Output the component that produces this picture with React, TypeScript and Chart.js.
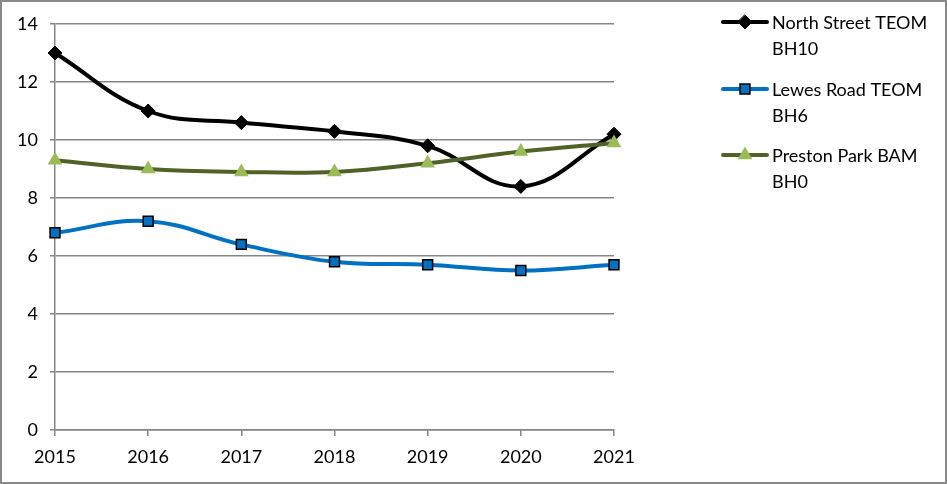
import React, { useEffect, useRef } from "react";
import { Chart, registerables } from "chart.js";

Chart.register(...registerables);

const years = ["2015", "2016", "2017", "2018", "2019", "2020", "2021"];
const northStreet = [13.0, 11.0, 10.6, 10.3, 9.8, 8.4, 10.2];
const lewesRoad = [6.8, 7.2, 6.4, 5.8, 5.7, 5.5, 5.7];
const prestonPark = [9.3, 9.0, 8.9, 8.9, 9.2, 9.6, 9.9];
const seriesNames = [
  ["North Street TEOM", "BH10"],
  ["Lewes Road TEOM", "BH6"],
  ["Preston Park BAM", "BH0"],
];
const yMax = 14;
const yStep = 2;

const FONT = "Lato, 'Open Sans', sans-serif";
const GRID = "#868686";

function drawMarker(ctx: CanvasRenderingContext2D, style: string, x: number, y: number, r: number, fill: string, stroke: string, bw: number) {
  ctx.save();
  ctx.beginPath();
  if (style === "rectRot") {
    ctx.moveTo(x, y - r);
    ctx.lineTo(x + r, y);
    ctx.lineTo(x, y + r);
    ctx.lineTo(x - r, y);
    ctx.closePath();
  } else if (style === "rect") {
    const s = Math.SQRT1_2 * r;
    ctx.rect(x - s, y - s, 2 * s, 2 * s);
  } else if (style === "triangle") {
    ctx.moveTo(x, y - r);
    ctx.lineTo(x + r * 0.866, y + r * 0.5);
    ctx.lineTo(x - r * 0.866, y + r * 0.5);
    ctx.closePath();
  }
  ctx.fillStyle = fill;
  ctx.fill();
  if (bw > 0) {
    ctx.lineWidth = bw;
    ctx.strokeStyle = stroke;
    ctx.stroke();
  }
  ctx.restore();
}

const frameAndLegend = {
  id: "frameAndLegend",
  afterDraw(chart: any) {
    const ctx = chart.ctx as CanvasRenderingContext2D;
    const W = chart.width;
    const H = chart.height;
    ctx.save();
    ctx.strokeStyle = "#898989";
    ctx.lineWidth = 2;
    ctx.strokeRect(1, 1, W - 2, H - 2);

    const rowsY = [22, 89, 155];
    ctx.font = `18px ${FONT}`;
    ctx.textBaseline = "middle";
    ctx.textAlign = "left";
    chart.data.datasets.forEach((ds: any, i: number) => {
      const y = rowsY[i];
      ctx.beginPath();
      ctx.moveTo(723, y);
      ctx.lineTo(767, y);
      ctx.lineWidth = ds.borderWidth;
      ctx.strokeStyle = ds.borderColor;
      ctx.lineCap = "round";
      ctx.stroke();
      drawMarker(ctx, ds.pointStyle, 745, y, ds.pointRadius, ds.pointBackgroundColor, ds.pointBorderColor, ds.pointBorderWidth);
      ctx.fillStyle = "#000";
      const lines = seriesNames[i];
      lines.forEach((t, k) => ctx.fillText(t, 772, y + 1 + k * 26));
    });
    ctx.restore();
  },
};

export default function App() {
  const ref = useRef<HTMLCanvasElement | null>(null);
  useEffect(() => {
    document.body.style.margin = "0";
    const chart = new Chart(ref.current as HTMLCanvasElement, {
      type: "line",
      data: {
        labels: years,
        datasets: [
          {
            label: seriesNames[0].join(" "),
            data: northStreet,
            borderColor: "#000000",
            borderWidth: 4,
            tension: 0.4,
            pointStyle: "rectRot",
            pointRadius: 7,
            pointBackgroundColor: "#000000",
            pointBorderColor: "#000000",
            pointBorderWidth: 1,
            clip: false,
            order: 2,
          },
          {
            label: seriesNames[1].join(" "),
            data: lewesRoad,
            borderColor: "#0070C0",
            borderWidth: 4,
            tension: 0.4,
            pointStyle: "rect",
            pointRadius: 7,
            pointBackgroundColor: "#0070C0",
            pointBorderColor: "#000000",
            pointBorderWidth: 1.5,
            clip: false,
            order: 1,
          },
          {
            label: seriesNames[2].join(" "),
            data: prestonPark,
            borderColor: "#4F6228",
            borderWidth: 4,
            tension: 0.4,
            pointStyle: "triangle",
            pointRadius: 8.5,
            pointBackgroundColor: "#9BBB59",
            pointBorderColor: "#9BBB59",
            pointBorderWidth: 0,
            clip: false,
            order: 0,
          },
        ] as any,
      },
      options: {
        animation: false,
        responsive: false,
        events: [],
        layout: { padding: { left: 0, top: 24, right: 333, bottom: 0 } },
        plugins: { legend: { display: false }, tooltip: { enabled: false } },
        scales: {
          x: {
            offset: false,
            border: { color: GRID, width: 1.5 },
            grid: { drawOnChartArea: false, drawTicks: true, tickLength: 6, color: GRID, lineWidth: 1.5 },
            ticks: { color: "#000", font: { family: FONT, size: 18 }, padding: 10, maxRotation: 0 },
            afterFit: (s: any) => { s.height = 54; },
          },
          y: {
            min: 0,
            max: yMax,
            border: { color: GRID, width: 1.5 },
            grid: { color: GRID, lineWidth: 1.5, tickLength: 5 },
            ticks: { stepSize: yStep, color: "#000", font: { family: FONT, size: 18 }, padding: 12 },
            afterFit: (s: any) => { s.width = 55; },
          },
        },
      },
      plugins: [frameAndLegend],
    });
    return () => chart.destroy();
  }, []);
  return (
    <div style={{ position: "fixed", left: 0, top: 0, width: 947, height: 484 }}>
      <canvas ref={ref} width={947} height={484} />
    </div>
  );
}
